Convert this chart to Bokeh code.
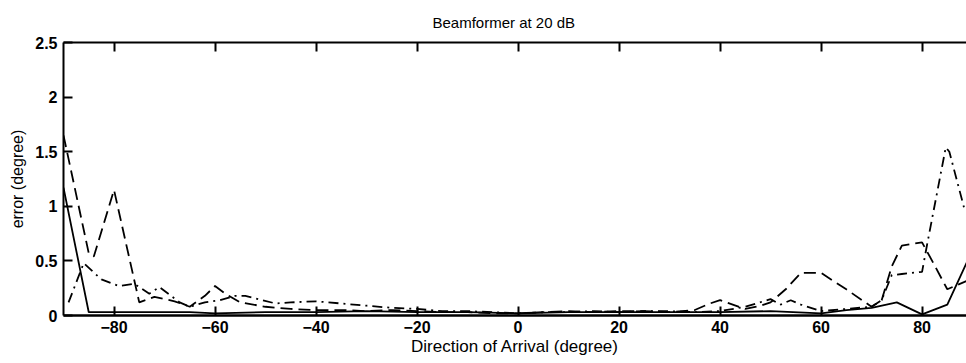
from bokeh.plotting import figure
from bokeh.models import LinearAxis, FixedTicker, Range1d, CustomJSTickFormatter
from bokeh.embed import file_html
from bokeh.resources import INLINE

# ---- data ----
x_ticks = [-80, -60, -40, -20, 0, 20, 40, 60, 80]
y_ticks = [0, 0.5, 1, 1.5, 2, 2.5]
y_tick_labels = {0: "0", 0.5: "0.5", 1: "1", 1.5: "1.5", 2: "2", 2.5: "2.5"}

solid_x = [-90, -85, -75, -65, -60, -50, -40, -30, -20, -10, 0, 10, 20, 30, 40, 50, 60, 65, 70, 75, 80, 85, 89]
solid_y = [1.17, 0.03, 0.03, 0.03, 0.02, 0.03, 0.03, 0.04, 0.03, 0.03, 0.02, 0.03, 0.03, 0.03, 0.03, 0.04, 0.02, 0.05, 0.07, 0.12, 0.01, 0.10, 0.50]

dash_x = [-90, -85, -84, -80, -75, -72, -68, -65, -62, -60, -58, -55, -50, -45, -40, -35, -30, -25, -20, -15, -10, -5, 0, 5, 10, 15, 20, 25, 30, 35, 38, 40, 45, 48, 50, 53, 56, 60, 65, 70, 72, 74, 76, 80, 82, 85, 89]
dash_y = [1.65, 0.57, 0.54, 1.15, 0.12, 0.17, 0.13, 0.08, 0.18, 0.27, 0.20, 0.12, 0.08, 0.06, 0.05, 0.05, 0.04, 0.05, 0.04, 0.03, 0.03, 0.02, 0.02, 0.03, 0.04, 0.03, 0.04, 0.04, 0.03, 0.05, 0.11, 0.14, 0.06, 0.09, 0.12, 0.24, 0.39, 0.39, 0.24, 0.08, 0.14, 0.45, 0.64, 0.67, 0.50, 0.24, 0.32]

dashdot_x = [-89, -86, -82.5, -79, -76, -73, -71, -67, -65, -62, -59, -56, -54, -48, -45, -40, -35, -30, -25, -20, -15, -10, -5, 0, 5, 10, 15, 20, 25, 30, 35, 40, 45, 50, 52, 54, 56, 60, 65, 70, 72, 74, 76, 80, 81, 84.7, 85.4, 88.3, 89]
dashdot_y = [0.12, 0.48, 0.33, 0.27, 0.29, 0.20, 0.26, 0.12, 0.08, 0.12, 0.14, 0.18, 0.18, 0.11, 0.12, 0.13, 0.11, 0.09, 0.07, 0.06, 0.04, 0.04, 0.03, 0.02, 0.03, 0.03, 0.04, 0.03, 0.04, 0.04, 0.03, 0.04, 0.08, 0.15, 0.10, 0.14, 0.10, 0.04, 0.06, 0.08, 0.14, 0.37, 0.38, 0.40, 0.65, 1.54, 1.50, 0.99, 0.95]

title_text = "Beamformer at 20 dB"
x_label = "Direction of Arrival (degree)"
y_label = "error (degree)"

FONT = "Liberation Sans"

p = figure(width=966, height=363, x_range=Range1d(-90, 88.8), y_range=Range1d(0, 2.5),
           output_backend="svg", toolbar_location=None,
           min_border_left=63, min_border_right=0, min_border_top=41, min_border_bottom=48)
p.xgrid.visible = False
p.ygrid.visible = False
p.outline_line_color = None
p.background_fill_color = "white"
p.border_fill_color = "white"

p.title.text = title_text
p.title.align = "left"
p.title.offset = 369
p.title.text_font = FONT
p.title.text_font_size = "15px"
p.title.text_font_style = "normal"
p.title.text_color = "black"
p.title.standoff = 23

def style_axis(ax):
    ax.axis_line_width = 2
    ax.axis_line_color = "black"
    ax.major_tick_in = 9
    ax.major_tick_out = 0
    ax.major_tick_line_width = 2
    ax.minor_tick_in = 0
    ax.minor_tick_out = 0
    ax.major_label_text_font = FONT
    ax.major_label_text_font_size = "16px"
    ax.major_label_text_font_style = "bold"
    ax.major_label_text_color = "black"
    ax.axis_label_text_font = FONT
    ax.axis_label_text_font_style = "normal"
    ax.axis_label_text_color = "black"

xa = p.xaxis[0]
xa.ticker = FixedTicker(ticks=x_ticks)
style_axis(xa)
xa.axis_line_width = 2.5
xa.major_label_standoff = 5
xa.axis_label = x_label
xa.axis_label_text_font_size = "17px"
xa.axis_label_standoff = 1

ya = p.yaxis[0]
ya.ticker = FixedTicker(ticks=y_ticks)
ya.major_label_overrides = y_tick_labels
style_axis(ya)
ya.major_label_standoff = 6
ya.axis_label = y_label
ya.axis_label_text_font_size = "16px"
ya.axis_label_standoff = 6

top = LinearAxis(ticker=FixedTicker(ticks=x_ticks), formatter=CustomJSTickFormatter(code="return ''"))
style_axis(top)
top.major_label_standoff = 0
top.major_label_text_font_size = "1px"
p.add_layout(top, "above")

p.line(solid_x, solid_y, line_color="black", line_width=1.8)
p.line(dash_x, dash_y, line_color="black", line_width=1.8, line_dash="12 6")
p.line(dashdot_x, dashdot_y, line_color="black", line_width=1.8, line_dash="10 5 2 5")

open("out.html", "w").write(file_html(p, INLINE))
